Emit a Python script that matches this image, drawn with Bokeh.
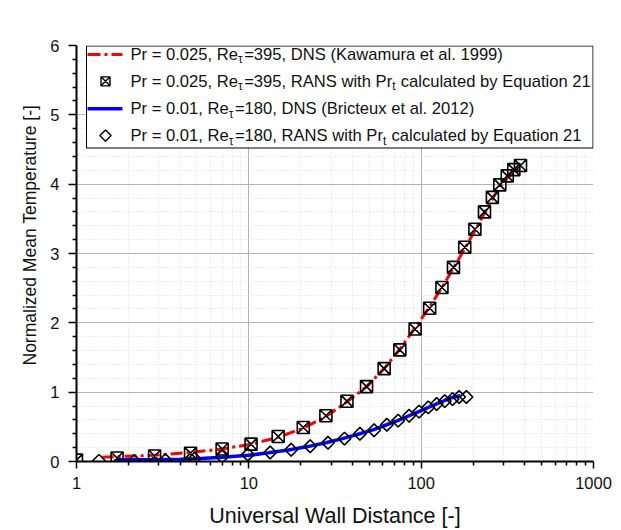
import math
from bokeh.plotting import figure
from bokeh.models import Range1d, FixedTicker, NumeralTickFormatter, Title
from bokeh.core.properties import value
from bokeh.embed import file_html
from bokeh.resources import INLINE

# ---------------- data ----------------
# Pr = 0.025, Re_tau = 395, DNS (Kawamura et al. 1999)
dns025_x = [1.4, 1.72, 2.84, 4.59, 7.0, 10.3, 14.8, 20.7, 28.0, 37.1, 48.2, 61.0,
            75.2, 92.2, 112, 132, 154, 179, 205, 233, 259, 286, 316, 345, 372]
dns025_y = [0.06, 0.07, 0.09, 0.13, 0.18, 0.25, 0.35, 0.48, 0.65, 0.86, 1.08, 1.34,
            1.62, 1.93, 2.23, 2.51, 2.79, 3.07, 3.33, 3.58, 3.79, 3.96, 4.09, 4.17, 4.22]
# Pr = 0.025, RANS
rans025_x = [1.0, 1.72, 2.84, 4.59, 7.0, 10.3, 14.8, 20.7, 28.0, 37.1, 48.2, 61.0,
             75.2, 92.2, 112, 132, 154, 179, 205, 233, 259, 286, 316, 345, 377]
rans025_y = [0.02, 0.05, 0.08, 0.12, 0.18, 0.25, 0.36, 0.49, 0.66, 0.87, 1.08, 1.34,
             1.61, 1.91, 2.21, 2.51, 2.80, 3.09, 3.35, 3.60, 3.81, 3.99, 4.12, 4.21, 4.27]
# Pr = 0.01, Re_tau = 180, DNS (Bricteux et al. 2012)
dns01_x = [1.7, 2.0, 3.0, 4.0, 5.0, 7.0, 10.0, 13.0, 17.0, 22.0, 28.0, 35.0, 44.0,
           53.0, 63.0, 73.0, 85.0, 97.0, 110, 123, 137, 150, 169]
dns01_y = [0.025, 0.025, 0.028, 0.032, 0.04, 0.06, 0.09, 0.125, 0.165, 0.215, 0.27, 0.33,
           0.40, 0.46, 0.53, 0.59, 0.66, 0.72, 0.78, 0.83, 0.88, 0.92, 0.95]
# Pr = 0.01, RANS
rans01_x = [1.35, 2.16, 3.28, 4.84, 7.0, 9.87, 13.3, 17.6, 22.7, 28.8, 35.9, 44.1,
            53.3, 63.2, 73.5, 85.1, 97.2, 110, 123, 137, 152, 166, 183]
rans01_y = [0.01, 0.01, 0.02, 0.04, 0.07, 0.10, 0.13, 0.17, 0.22, 0.27, 0.33, 0.40,
            0.45, 0.53, 0.59, 0.66, 0.72, 0.78, 0.83, 0.87, 0.90, 0.93, 0.93]

x_major = [1, 10, 100, 1000]
y_major = [0, 1, 2, 3, 4, 5, 6]

legend_rows = [
    ["Pr = 0.025, Re", ("τ",), "=395, DNS (Kawamura et al. 1999)"],
    ["Pr = 0.025, Re", ("τ",), "=395, RANS with Pr", ("t",), " calculated by Equation 21"],
    ["Pr = 0.01, Re", ("τ",), "=180, DNS (Bricteux et al. 2012)"],
    ["Pr = 0.01, Re", ("τ",), "=180, RANS with Pr", ("t",), " calculated by Equation 21"],
]
x_title = "Universal Wall Distance [-]"
y_title = "Normalized Mean Temperature [-]"

FONT = "Liberation Sans"

# ---------------- layout (pixels) ----------------
W_FIG, H_FIG = 621, 530
F_LEFT, F_TOP, F_RIGHT, F_BOTTOM = 76, 45, 593, 463


def xd(px):
    """pixel -> data (log x), used only to place the legend key"""
    return 10 ** (3.0 * (px - F_LEFT) / (F_RIGHT - F_LEFT))


def yd(py):
    return 6.0 * (F_BOTTOM - py) / (F_BOTTOM - F_TOP)


# ---------------- figure ----------------
p = figure(width=W_FIG, height=H_FIG, x_axis_type="log",
           x_range=Range1d(1, 1000), y_range=Range1d(0, 6),
           output_backend="svg", toolbar_location=None,
           min_border_left=F_LEFT, min_border_right=W_FIG - F_RIGHT,
           min_border_top=F_TOP, min_border_bottom=H_FIG - F_BOTTOM)
p.background_fill_color = "white"
p.border_fill_color = "white"
p.outline_line_color = None

minor_x = [m * d for d in x_major[:-1] for m in range(2, 10)]
minor_y = [round(v + k * 0.2, 1) for v in y_major[:-1] for k in range(1, 5)]
p.xaxis.ticker = FixedTicker(ticks=x_major, minor_ticks=minor_x)
p.yaxis.ticker = FixedTicker(ticks=y_major, minor_ticks=minor_y)
p.xaxis.formatter = NumeralTickFormatter(format="0")

for ax in (p.xaxis, p.yaxis):
    ax.axis_line_width = 2
    ax.axis_line_color = "black"
    ax.major_tick_line_color = "black"
    ax.minor_tick_line_color = "black"
    ax.major_tick_line_width = 1.5
    ax.minor_tick_line_width = 1.5
    ax.major_tick_in = 0
    ax.minor_tick_in = 0
    ax.major_label_text_font = FONT
    ax.major_label_text_font_size = "16.5px"
    ax.major_label_text_color = "#111111"
    ax.axis_label_text_font = FONT
    ax.axis_label_text_font_style = "normal"
    ax.axis_label_text_color = "#111111"

p.xaxis.major_tick_out = 7
p.xaxis.minor_tick_out = 4
p.xaxis.major_label_standoff = 8
p.xaxis.axis_label = x_title
p.xaxis.axis_label_text_font_size = "21.5px"
p.xaxis.axis_label_standoff = 12

p.yaxis.major_tick_out = 8
p.yaxis.minor_tick_out = 4
p.yaxis.major_label_standoff = 9

# y title as a side Title so it can sit a little above the frame centre, like the original
p.add_layout(Title(text=y_title, align="left", offset=96, standoff=15,
                   text_font=FONT, text_font_size="17.5px", text_font_style="normal",
                   text_color="#111111"), "left")

for g in (p.xgrid, p.ygrid):
    g.grid_line_color = "#b4b4b4"
    g.grid_line_width = 1
    g.minor_grid_line_color = "#dcdcdc"
    g.minor_grid_line_dash = "1 2"
    g.minor_grid_line_width = 1

# ---------------- data glyphs ----------------
p.line(dns025_x, dns025_y, line_color="#ff0000", line_width=3, line_dash="12 4 3 4")
p.line(dns01_x, dns01_y, line_color="#0000ff", line_width=3.5)
p.scatter(rans025_x, rans025_y, marker="square_x", size=12,
          line_color="black", line_width=1.6, fill_color=None)
p.scatter(rans01_x, rans01_y, marker="square", angle=math.pi / 4, size=9,
          line_color="black", line_width=1.6, fill_color=None)

# ---------------- legend key (drawn as glyphs so the texts can carry sub-scripts) ----------------
BOX_L, BOX_R, BOX_T, BOX_B = 86, 592.5, 45.5, 148
p.quad(left=[xd(BOX_L)], right=[xd(BOX_R)], top=[yd(BOX_T)], bottom=[yd(BOX_B)],
       fill_color="white", line_color="black", line_width=1)

row_y = [54, 81, 108.5, 135.5]
key_x0, key_x1, key_xm = 87, 122, 105
p.line([xd(key_x0), xd(key_x1)], [yd(row_y[0])] * 2, line_color="#ff0000", line_width=3,
       line_dash="13 4 3 4")
p.line([xd(key_x0), xd(key_x1)], [yd(row_y[2])] * 2, line_color="#0000ff", line_width=3.5)
p.scatter([xd(key_xm)], [yd(row_y[1])], marker="square_x", size=9,
          line_color="black", line_width=1.4, fill_color=None)
p.scatter([xd(key_xm)], [yd(row_y[3])], marker="square", angle=math.pi / 4, size=8,
          line_color="black", line_width=1.4, fill_color=None)

CW = {' ': 278, ',': 278, '.': 278, '=': 584, '(': 333, ')': 333, '-': 333,
      'A': 667, 'B': 667, 'D': 722, 'E': 667, 'K': 667, 'N': 722, 'P': 667, 'R': 722,
      'S': 667, 'a': 556, 'b': 556, 'c': 500, 'd': 556, 'e': 556, 'h': 556, 'i': 222,
      'k': 500, 'l': 222, 'm': 833, 'n': 556, 'o': 556, 'q': 556, 'r': 333, 's': 500,
      't': 278, 'u': 556, 'w': 722, 'x': 500, 'y': 500, 'τ': 470}


def text_width(s, size):
    return sum(CW.get(ch, 556) for ch in s) / 1000.0 * size


MAIN = 16.6
SUB = 12
main_x, main_y, main_t = [], [], []
sub_x, sub_y, sub_t = [], [], []
for row, yc in zip(legend_rows, row_y):
    x = 130
    for piece in row:
        if isinstance(piece, tuple):
            sub_x.append(xd(x)); sub_y.append(yd(yc + 5)); sub_t.append(piece[0])
            x += text_width(piece[0], SUB) + 0.5
        else:
            lead = len(piece) - len(piece.lstrip(" "))
            x += text_width(" " * lead, MAIN)
            s = piece.lstrip(" ")
            main_x.append(xd(x)); main_y.append(yd(yc)); main_t.append(s)
            x += text_width(s, MAIN)

p.text(main_x, main_y, text=main_t, text_font=value(FONT), text_font_size=value(f"{MAIN}px"),
       text_baseline="middle", text_align="left", text_color="#111111")
p.text(sub_x, sub_y, text=sub_t, text_font=value(FONT), text_font_size=value(f"{SUB}px"),
       text_baseline="middle", text_align="left", text_color="#111111")

open("out.html", "w").write(file_html(p, INLINE))
